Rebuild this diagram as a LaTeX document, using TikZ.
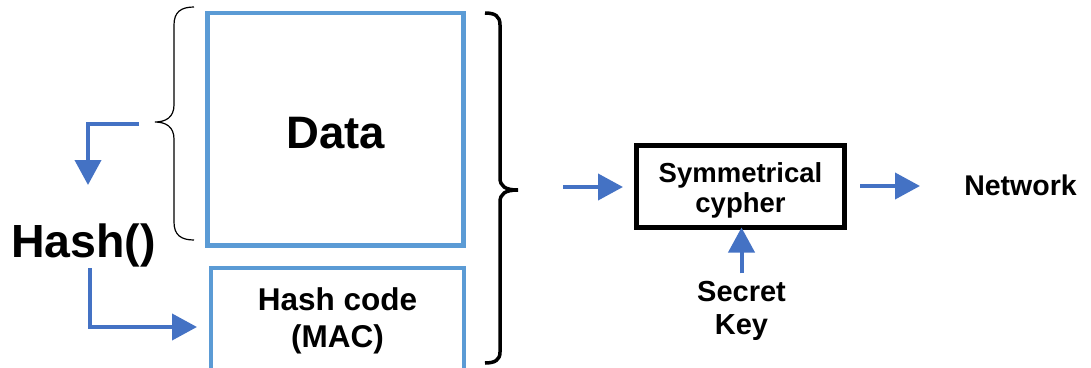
\documentclass[tikz,border=0pt]{standalone}
\usepackage{fontspec}
\setmainfont{Liberation Sans}
\usetikzlibrary{arrows.meta}
\definecolor{boxblue}{HTML}{5B9BD5}
\definecolor{arrblue}{HTML}{4472C4}
\begin{document}
\begin{tikzpicture}[x=1pt,y=-1pt,
  bluebox/.style={draw=boxblue,line width=4.5pt,inner sep=0pt,outer sep=0pt},
  flowarrow/.style={draw=arrblue,line width=4pt,-{Triangle[length=25pt,width=26pt]}},
  txt/.style={inner sep=0pt,outer sep=0pt,align=center,text=black}
]
\useasboundingbox (0,0) rectangle (1091,367);
\clip (0,0) rectangle (1091,367);

% boxes
\node[bluebox, minimum width=256pt, minimum height=232.5pt] (data) at (335.5,129.25) {};
\node[bluebox, line width=4pt, minimum width=252.5pt, minimum height=102pt] (mac) at (337.25,319) {};
\node[draw=black, line width=5pt, inner sep=0pt, outer sep=0pt, minimum width=208pt, minimum height=82pt] (sym) at (740.5,186.5) {};

% texts
\node[txt, anchor=base, font=\bfseries\fontsize{46.5}{50}\selectfont] (hash) at (83.5,257) {Hash()};
\node[txt, anchor=base, font=\bfseries\fontsize{45.5}{50}\selectfont] (datatxt) at (336,148) {Data};
\node[txt, font=\bfseries\fontsize{31.5}{37}\selectfont] (mactxt) at (337.5,321) {Hash code\\(MAC)};
\node[txt, font=\bfseries\fontsize{27.5}{30}\selectfont] (symtxt) at (740.5,190) {Symmetrical\\cypher};
\node[txt, font=\bfseries\fontsize{29}{33}\selectfont] (key) at (741.5,311) {Secret\\Key};
\node[txt, anchor=base, font=\bfseries\fontsize{28.5}{32}\selectfont] (net) at (1020.5,195) {Network};

% braces
\coordinate (ltip) at (155,122);
\coordinate (rtip) at (518,190);
\draw[line width=1.2pt] (194,7) .. controls (181,7) and (174,12) .. (174,25) -- (174,105)
  .. controls (174,117) and (166,122) .. (ltip)
  .. controls (166,122) and (174,127) .. (174,139) -- (174,222)
  .. controls (174,235) and (181,240) .. (194,240);
\draw[line width=3.5pt] (485,13) .. controls (495,13) and (500,16) .. (500,25) -- (500,178)
  .. controls (500,186) and (505,190) .. (rtip)
  .. controls (505,190) and (500,194) .. (500,202) -- (500,352)
  .. controls (500,360) and (495,363) .. (485,363);

% connectors
\coordinate (a1s) at (139,124);
\coordinate (a1e) at (88,185);
\draw[flowarrow] (a1s) -| (a1e);
\coordinate (a2s) at (90,268);
\coordinate (a2e) at (197,327);
\draw[flowarrow] (a2s) |- (a2e);
\draw[flowarrow] ([xshift=-73.5pt,yshift=-0.5pt]sym.west) -- ([xshift=-13.5pt,yshift=-0.5pt]sym.west);
\draw[flowarrow] ([xshift=15.5pt,yshift=0.5pt]sym.east) -- ([xshift=75.5pt,yshift=0.5pt]sym.east);
\draw[flowarrow] ([yshift=8pt]key.north) -- (key.north |- sym.south);
\end{tikzpicture}
\end{document}
